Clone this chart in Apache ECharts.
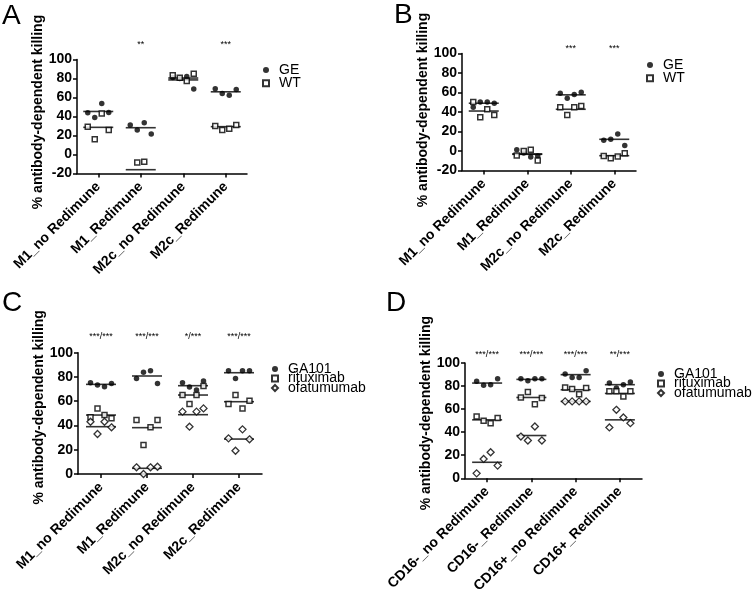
<!DOCTYPE html>
<html><head><meta charset="utf-8">
<script src="https://cdn.jsdelivr.net/npm/echarts@6/dist/echarts.min.js"></script>
<style>html,body{margin:0;padding:0;background:#fff}#c{width:754px;height:595px}</style>
</head><body><div id="c"></div>
<script>
const FONT = '"Liberation Sans", Arial, Helvetica, sans-serif';

// ---- categories ----
const catsM = ['M1_no Redimune', 'M1_Redimune', 'M2c_no Redimune', 'M2c_Redimune'];
const catsCD = ['CD16-_no Redimune', 'CD16-_Redimune', 'CD16+_no Redimune', 'CD16+_Redimune'];

// ---- panel A ----
const A_GE = [[43.9, 39, 53.7, 44.3], [31, 25.8, 33.4, 21.6], [81, 80, 82, 69], [69.3, 64.1, 62.4, 68.3]];
const A_WT = [[29.3, 16, 43.2, 25.8], [-8.4, -7.7], [83.3, 80.8, 77.4, 85], [30, 25.8, 27.2, 31]];
const A_GE_MEAN = [45.3, 28.2, 78.5, 66];
const A_WT_MEAN = [28.6, -16, 80.5, 29.3];
const A_STARS = ['', '**', '', '***'];

// ---- panel B ----
const B_GE = [[44.8, 50.3, 50.3, 49], [1.4, -2, -6.2, -5], [59.3, 54.1, 57.9, 60.3], [11, 12, 17.5, 5.6]];
const B_WT = [[50.3, 34.5, 42.8, 36.9], [-4.5, 0, 1.4, -9.7], [44.8, 36.9, 44.8, 46.2], [-5, -7.4, -5.7, -2.3]];
const B_GE_MEAN = [49, -3, 57.6, 12];
const B_WT_MEAN = [41, -3.4, 42.8, -4.8];
const B_STARS = ['', '', '***', '***'];

// ---- panel C ----
const C_GA = [[75.3, 73.4, 72, 74.7], [78.8, 83.8, 85.2, 74.7], [75.3, 71.7, 69.2, 76.6], [85.2, 78.8, 85.2, 85.2]];
const C_RI = [[46.7, 54.1, 48.6, 45.9], [44.5, 23.9, 38.5, 44.5], [65.1, 57.7, 65.1, 72.5], [57.7, 65.1, 54.1, 60.4]];
const C_OF = [[43.1, 33, 43.1, 38.5], [5.5, 0, 5.5, 6], [51.4, 39, 51.4, 54.1], [29.4, 19.2, 36.8, 28.6]];
const C_GA_MEAN = [73.9, 80.8, 72.8, 83.5];
const C_RI_MEAN = [48.6, 38.2, 65.1, 59.6];
const C_OF_MEAN = [39, 4.7, 48.9, 28.8];
const C_STARS = ['***/***', '***/***', '*/***', '***/***'];

// ---- panel D ----
const D_GA = [[84.1, 80.6, 81.2, 86.4], [86.4, 84.6, 86.4, 86.4], [90.4, 87.5, 87.5, 93.3], [82.6, 78.3, 81.2, 83.5]];
const D_RI = [[53.6, 49.9, 47.8, 52.2], [70.1, 74.8, 64.3, 69.6], [78.8, 77.4, 73, 78.3], [75.4, 75.4, 71, 75.4]];
const D_OF = [[4.3, 16.8, 22.6, 11], [36.2, 32.8, 44.9, 32.8], [66.7, 66.7, 66.7, 66.7], [44.1, 59.4, 52.8, 47.8]];
const D_GA_MEAN = [82.6, 85.8, 89.9, 81.2];
const D_RI_MEAN = [50.7, 70.1, 76.8, 73.6];
const D_OF_MEAN = [13.9, 37.1, 66.7, 50.7];
const D_STARS = ['***/***', '***/***', '***/***', '**/***'];

const Y_NAME = '% antibody-dependent killing';

const STY = {
  circle: { symbol: 'circle', size: 5.5, style: { color: '#000' } },
  square: { symbol: 'rect', size: 5, style: { color: '#fff', borderColor: '#000', borderWidth: 1.5 } },
  diamond: { symbol: 'diamond', size: 7, style: { color: '#fff', borderColor: '#000', borderWidth: 1.3 } }
};

const panels = [
  { letter: 'A', lx: 2, ly: 2, grid: { left: 77, top: 59.5, width: 170, height: 114 }, min: -20, cats: catsM, nameShift: 9,
    groups: [{ name: 'GE', vals: A_GE, means: A_GE_MEAN, m: 'circle' }, { name: 'WT', vals: A_WT, means: A_WT_MEAN, m: 'square' }],
    stars: A_STARS, starOff: 14.5, legend: { left: 262, top: 63, gap: -0.7, fs: 14 } },
  { letter: 'B', lx: 394, ly: 1, grid: { left: 462, top: 53.5, width: 174, height: 117 }, min: -20, cats: catsM, nameShift: 4,
    groups: [{ name: 'GE', vals: B_GE, means: B_GE_MEAN, m: 'circle' }, { name: 'WT', vals: B_WT, means: B_WT_MEAN, m: 'square' }],
    stars: B_STARS, starOff: 4.5, legend: { left: 646, top: 58, gap: -0.7, fs: 14 } },
  { letter: 'C', lx: 2, ly: 289, grid: { left: 78, top: 352.7, width: 184, height: 121.3 }, min: 0, cats: catsM, nameShift: 12,
    groups: [{ name: 'GA101', vals: C_GA, means: C_GA_MEAN, m: 'circle' }, { name: 'rituximab', vals: C_RI, means: C_RI_MEAN, m: 'square' }, { name: 'ofatumumab', vals: C_OF, means: C_OF_MEAN, m: 'diamond' }],
    stars: C_STARS, starOff: 16, legend: { left: 271, top: 362, gap: -4.5, fs: 14 } },
  { letter: 'D', lx: 386, ly: 289, grid: { left: 465, top: 363, width: 177, height: 115.3 }, min: 0, cats: catsCD, nameShift: 15,
    groups: [{ name: 'GA101', vals: D_GA, means: D_GA_MEAN, m: 'circle' }, { name: 'rituximab', vals: D_RI, means: D_RI_MEAN, m: 'square' }, { name: 'ofatumumab', vals: D_OF, means: D_OF_MEAN, m: 'diamond' }],
    stars: D_STARS, starOff: 8, legend: { left: 657, top: 367, gap: -4.5, fs: 14 } }
];

const grid = [], xAxis = [], yAxis = [], series = [], legend = [], title = [];
const axisLine = { show: true, onZero: false, lineStyle: { color: '#000', width: 1.5 } };
const axisTick = { show: true, length: 4, lineStyle: { color: '#000', width: 1.5 } };

panels.forEach((P, p) => {
  grid.push(Object.assign({ outerBoundsMode: 'none', containLabel: false }, P.grid));
  title.push({ text: P.letter, left: P.lx, top: P.ly, padding: 0,
    textStyle: { fontFamily: FONT, fontSize: 28, fontWeight: 'normal', color: '#000' } });
  xAxis.push({ type: 'category', gridIndex: p, data: P.cats, boundaryGap: true, position: 'bottom',
    axisLine, axisTick: Object.assign({ alignWithLabel: true }, axisTick),
    axisLabel: { interval: 0, rotate: 45, margin: 11, color: '#000', fontFamily: FONT, fontSize: 14, fontWeight: 'bold' },
    splitLine: { show: false } });
  xAxis.push({ type: 'value', gridIndex: p, min: -0.5, max: 3.5, show: false });
  yAxis.push({ type: 'value', gridIndex: p, min: P.min, max: 100, interval: 20, position: 'left',
    axisLine, axisTick,
    axisLabel: { margin: 5, color: '#000', fontFamily: FONT, fontSize: 14, fontWeight: 'bold' },
    splitLine: { show: false },
    name: Y_NAME, nameLocation: 'middle', nameRotate: 90, nameGap: 32,
    nameTextStyle: { color: '#000', fontFamily: FONT, fontSize: 14, fontWeight: 'bold', padding: [0, 0, 0, P.nameShift] } });

  const band = P.grid.width / 4;
  const step = 7 / band;
  P.groups.forEach(g => {
    const s = STY[g.m];
    const pts = [];
    g.vals.forEach((arr, i) => arr.forEach((v, k) => pts.push([i + (k - (arr.length - 1) / 2) * step, v])));
    series.push({ type: 'scatter', name: g.name, xAxisIndex: 2 * p + 1, yAxisIndex: p,
      symbol: s.symbol, symbolSize: s.size, itemStyle: s.style, z: 3, data: pts, silent: true });
    series.push({ type: 'scatter', name: g.name + ' mean', xAxisIndex: 2 * p + 1, yAxisIndex: p,
      symbol: 'rect', symbolSize: [30, 1.6], itemStyle: { color: '#000' }, z: 2,
      data: g.means.map((m, i) => [i, m]), silent: true });
  });
  const stars = P.stars, off = P.starOff, top = 100;
  series.push({ type: 'custom', name: 'sig' + p, xAxisIndex: 2 * p + 1, yAxisIndex: p, silent: true, clip: false,
    data: stars.map((s, i) => [i, top]),
    renderItem: (params, api) => {
      const pt = api.coord([api.value(0), api.value(1)]);
      return { type: 'text', x: pt[0], y: pt[1] - off,
        style: { text: stars[params.dataIndex], fill: '#000', fontFamily: FONT, fontSize: 9, align: 'center', verticalAlign: 'middle' } };
    } });
  legend.push({ orient: 'vertical', left: P.legend.left, top: P.legend.top, padding: 0, itemGap: P.legend.gap,
    itemWidth: 6, itemHeight: 6, selectedMode: false,
    data: P.groups.map(g => g.name),
    textStyle: { fontFamily: FONT, fontSize: P.legend.fs, lineHeight: 14, color: '#000', padding: [0, 0, 0, 5] } });
});

const chart = echarts.init(document.getElementById('c'), null, { renderer: 'canvas' });
chart.setOption({ backgroundColor: '#fff', animation: false, title, grid, xAxis, yAxis, legend, series });
</script>
</body></html>
